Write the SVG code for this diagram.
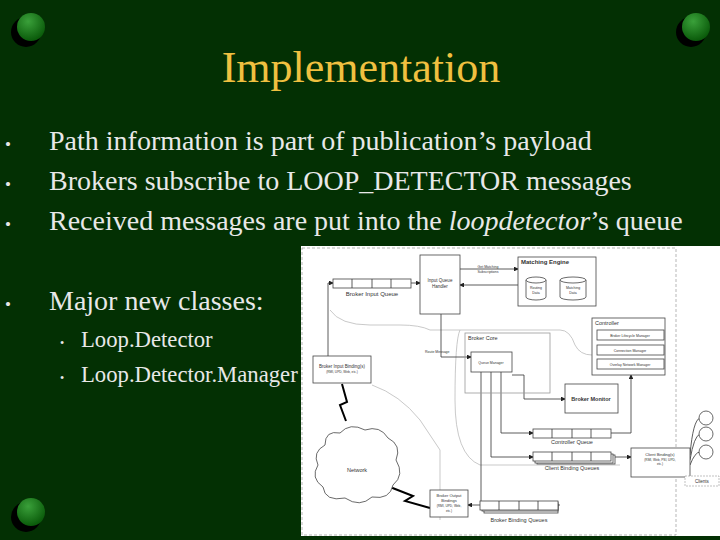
<svg xmlns="http://www.w3.org/2000/svg" width="720" height="540" viewBox="0 0 720 540">
<defs>
<radialGradient id="ball" cx="0.4" cy="0.3" r="0.7"><stop offset="0" stop-color="#3aa03a"/><stop offset="1" stop-color="#0a5a0a"/></radialGradient>
<marker id="ar" markerWidth="6" markerHeight="6" refX="5" refY="3" orient="auto"><path d="M0,0 L6,3 L0,6 z" fill="#222"/></marker>
<style>
.t{font-family:"Liberation Serif",serif;fill:#e8e8e8}
.d{font-family:"Liberation Sans",sans-serif;fill:#333}
.b{fill:#fff;stroke:#444;stroke-width:0.8}
.l{fill:none;stroke:#333;stroke-width:0.8}
.g{fill:none;stroke:#bbb;stroke-width:0.8}
</style>
</defs>
<rect width="720" height="540" fill="#033003"/>
<g id="balls">
<g><circle cx="26" cy="32" r="15" fill="#000"/><circle cx="31" cy="27" r="14" fill="url(#ball)"/></g>
<g><circle cx="691" cy="32" r="15" fill="#000"/><circle cx="696" cy="27" r="14" fill="url(#ball)"/></g>
<g><circle cx="26" cy="517" r="15" fill="#000"/><circle cx="31" cy="512" r="14" fill="url(#ball)"/></g>
</g>
<text x="361" y="82" text-anchor="middle" font-family="Liberation Serif,serif" font-size="44" fill="#f0c040">Implementation</text>
<g class="t" font-size="28">
<text x="5" y="150" font-size="17">•</text><text x="49" y="150">Path information is part of publication’s payload</text>
<text x="5" y="190" font-size="17">•</text><text x="49" y="190">Brokers subscribe to LOOP_DETECTOR messages</text>
<text x="5" y="230" font-size="17">•</text><text x="49" y="230">Received messages are put into the <tspan font-style="italic">loopdetector</tspan>’s queue</text>
<text x="5" y="310" font-size="17">•</text><text x="49" y="310">Major new classes:</text>
</g>
<g class="t" font-size="22.7">
<text x="60" y="347" font-size="12">•</text><text x="81" y="347">Loop.Detector</text>
<text x="60" y="382" font-size="12">•</text><text x="81" y="382">Loop.Detector.Manager</text>
</g>
<g id="figure">
<rect x="301" y="246" width="419" height="290" fill="#fff"/>
<rect x="302" y="248" width="374" height="287" fill="none" stroke="#999" stroke-width="0.7" stroke-dasharray="3,2"/>
<path class="g" d="M330,310 Q340,325 370,325 L400,325 Q420,325 430,330 L560,330 Q570,330 575,345 Q580,355 592,355"/>
<path class="g" d="M372,385 Q400,395 420,420 L440,450 L440,520"/>
<path class="g" d="M460,330 Q455,340 455,400 Q455,455 480,465 L620,465"/>
</g>
<g id="connectors">
<path class="l" d="M328,356 V283 L333,283" marker-end="url(#ar)"/>
<path class="l" d="M411,283 H420" marker-end="url(#ar)"/>
<path class="l" d="M460,269 H518" marker-end="url(#ar)"/>
<path class="l" d="M518,285 H460" marker-end="url(#ar)"/>
<path class="l" d="M441,314 V357 H471" marker-end="url(#ar)"/>
<path class="l" d="M481,372 V503 H480"/>
<path class="l" d="M491,372 V457 H533" marker-end="url(#ar)"/>
<path class="l" d="M501,372 V433 H533" marker-end="url(#ar)"/>
<path class="l" d="M512,375 H524 V399 H565" marker-end="url(#ar)"/>
<path class="l" d="M611,433 H631 V375" marker-end="url(#ar)"/>
<path class="l" d="M611,457 H631" marker-end="url(#ar)"/>
<path class="l" d="M481,505 H560"/>
<path class="l" d="M480,505 H468" marker-end="url(#ar)"/>
<path class="l" d="M690,455 Q693,420 700,418"/>
<path class="l" d="M690,460 Q694,436 700,434"/>
<path class="l" d="M690,465 Q695,452 700,452"/>
<path d="M342,384 L347,402 L340,405 L346,421" fill="none" stroke="#000" stroke-width="2"/>
<path d="M390,487 L413,496 L405,501 L430,508" fill="none" stroke="#000" stroke-width="2"/>
</g>
<g id="nodes" class="d">
<g id="biq"><rect class="b" x="333" y="279" width="78" height="9"/><path class="l" d="M352,279V288M372,279V288M391,279V288"/><text x="372" y="296" font-size="6" text-anchor="middle">Broker Input Queue</text></g>
<g id="iqh"><rect class="b" x="420" y="255" width="40" height="59"/><text x="440" y="282" font-size="4.5" text-anchor="middle">Input Queue</text><text x="440" y="288" font-size="4.5" text-anchor="middle">Handler</text></g>
<text x="488" y="268" font-size="3.5" text-anchor="middle">Get Matching</text><text x="488" y="273" font-size="3.5" text-anchor="middle">Subscriptions</text>
<g id="me"><rect class="b" x="518" y="257" width="78" height="49"/><text x="521" y="264" font-size="6" font-weight="bold">Matching Engine</text>
<path class="b" d="M526,280 V297 A10,3 0 0 0 546,297 V280"/><ellipse class="b" cx="536" cy="280" rx="10" ry="3"/><text x="536" y="289" font-size="3.5" text-anchor="middle">Routing</text><text x="536" y="294" font-size="3.5" text-anchor="middle">Data</text>
<path class="b" d="M560,280 V297 A13,3 0 0 0 586,297 V280"/><ellipse class="b" cx="573" cy="280" rx="13" ry="3"/><text x="573" y="289" font-size="3.5" text-anchor="middle">Matching</text><text x="573" y="294" font-size="3.5" text-anchor="middle">Data</text></g>
<g id="ctrl"><rect class="b" x="592" y="318" width="73" height="57"/><text x="595" y="325" font-size="5.5">Controller</text>
<rect class="b" x="597" y="330" width="67" height="10"/><text x="630" y="337" font-size="3.5" text-anchor="middle">Broker Lifecycle Manager</text>
<rect class="b" x="597" y="345" width="67" height="10"/><text x="630" y="352" font-size="3.5" text-anchor="middle">Connection Manager</text>
<rect class="b" x="597" y="359" width="67" height="10"/><text x="630" y="366" font-size="3.5" text-anchor="middle">Overlay Network Manager</text></g>
<g id="core"><rect fill="none" stroke="#999" stroke-width="0.8" x="465" y="333" width="85" height="60"/><text x="468" y="340" font-size="5.5">Broker Core</text>
<rect class="b" x="471" y="352" width="41" height="20"/><text x="491" y="364" font-size="3.5" text-anchor="middle">Queue Manager</text></g>
<text x="425" y="353" font-size="3.5">Route Message</text>
<g id="bib"><rect class="b" x="313" y="356" width="58" height="27"/><text x="342" y="368" font-size="4.5" text-anchor="middle">Broker Input Binding(s)</text><text x="342" y="373" font-size="3.2" text-anchor="middle">(RMI, UPD, Web, etc.)</text></g>
<g id="bm"><rect class="b" x="565" y="384" width="53" height="29"/><text x="591" y="401" font-size="5.5" font-weight="bold" text-anchor="middle">Broker Monitor</text></g>
<g id="cq"><rect class="b" x="533" y="429" width="78" height="9"/><path class="l" d="M552,429V438M572,429V438M591,429V438"/><text x="572" y="444" font-size="5.5" text-anchor="middle">Controller Queue</text></g>
<g id="cbq"><rect class="b" x="537" y="455" width="78" height="9"/><rect class="b" x="535" y="454" width="78" height="9"/><rect class="b" x="533" y="452" width="78" height="9"/><path class="l" d="M552,452V461M572,452V461M591,452V461"/><text x="572" y="470" font-size="5.5" text-anchor="middle">Client Binding Queues</text></g>
<g id="cb"><rect class="b" x="631" y="448" width="59" height="29"/><text x="660" y="456" font-size="4" text-anchor="middle">Client Binding(s)</text><text x="660" y="461" font-size="3.2" text-anchor="middle">(RMI, Web, PSI, UPD,</text><text x="660" y="465" font-size="3.2" text-anchor="middle">etc.)</text></g>
<g id="clients"><circle class="b" cx="706" cy="418" r="7"/><circle class="b" cx="706" cy="434" r="7"/><circle class="b" cx="706" cy="452" r="7"/><rect fill="#fff" stroke="#999" stroke-width="0.6" stroke-dasharray="2,1" x="685" y="476" width="34" height="10"/><text x="702" y="483" font-size="4.5" text-anchor="middle">Clients</text></g>
<g id="net"><path class="b" d="M325,445 Q325,430 340,433 Q350,422 365,430 Q380,425 388,438 Q402,445 396,460 Q405,475 393,485 Q390,500 372,497 Q360,508 345,498 Q325,502 323,487 Q310,478 318,465 Q312,452 325,445 Z"/><text x="357" y="472" font-size="5.5" text-anchor="middle">Network</text></g>
<g id="bob"><rect class="b" x="430" y="490" width="38" height="27"/><text x="449" y="497" font-size="4" text-anchor="middle">Broker Output</text><text x="449" y="502" font-size="4" text-anchor="middle">Bindings</text><text x="449" y="507" font-size="3.2" text-anchor="middle">(RMI, UPD, Web,</text><text x="449" y="512" font-size="3.2" text-anchor="middle">etc.)</text></g>
<g id="bbq"><rect class="b" x="484" y="504" width="74" height="9"/><rect class="b" x="482" y="502" width="76" height="9"/><rect class="b" x="480" y="501" width="78" height="9"/><path class="l" d="M499,501V510M519,501V510M538,501V510"/><text x="519" y="522" font-size="5.5" text-anchor="middle">Broker Binding Queues</text></g>
</g>
</svg>
